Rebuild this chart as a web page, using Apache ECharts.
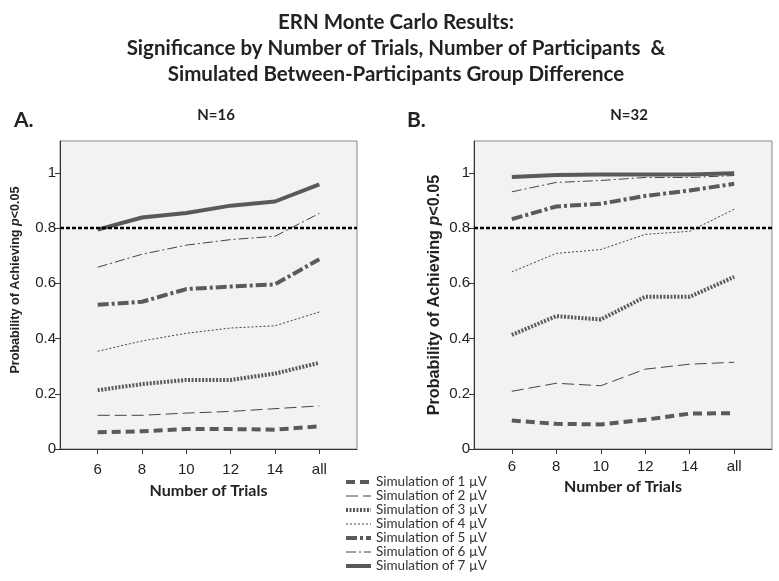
<!DOCTYPE html>
<html>
<head>
<meta charset="utf-8">
<script src="https://cdn.jsdelivr.net/npm/echarts@6/dist/echarts.min.js"></script>
<style>html,body{margin:0;padding:0;background:#fff}#c{width:779px;height:581px}</style>
</head>
<body>
<div id="c"></div>
<script>
// ---- data ----
const trials = ['6', '8', '10', '12', '14', 'all'];
const yTicks = [0, 0.2, 0.4, 0.6, 0.8, 1];
const simNames = ['Simulation of 1 \u00b5V', 'Simulation of 2 \u00b5V', 'Simulation of 3 \u00b5V', 'Simulation of 4 \u00b5V', 'Simulation of 5 \u00b5V', 'Simulation of 6 \u00b5V', 'Simulation of 7 \u00b5V'];
const threshold = 0.8;

// N=16 (panel A)
const n16_sim1 = [0.061, 0.064, 0.072, 0.072, 0.070, 0.082];
const n16_sim2 = [0.122, 0.122, 0.130, 0.136, 0.146, 0.156];
const n16_sim3 = [0.213, 0.235, 0.250, 0.250, 0.273, 0.312];
const n16_sim4 = [0.354, 0.391, 0.419, 0.438, 0.446, 0.496];
const n16_sim5 = [0.522, 0.533, 0.579, 0.588, 0.596, 0.687];
const n16_sim6 = [0.658, 0.705, 0.738, 0.758, 0.770, 0.853];
const n16_sim7 = [0.794, 0.838, 0.854, 0.881, 0.896, 0.958];

// N=32 (panel B)
const n32_sim1 = [0.103, 0.091, 0.089, 0.106, 0.128, 0.130];
const n32_sim2 = [0.209, 0.238, 0.229, 0.289, 0.307, 0.314];
const n32_sim3 = [0.413, 0.481, 0.469, 0.551, 0.551, 0.623];
const n32_sim4 = [0.641, 0.708, 0.722, 0.777, 0.788, 0.868];
const n32_sim5 = [0.832, 0.878, 0.888, 0.916, 0.936, 0.960];
const n32_sim6 = [0.931, 0.965, 0.972, 0.983, 0.983, 0.990];
const n32_sim7 = [0.985, 0.992, 0.994, 0.994, 0.994, 0.998];

const panelA = [n16_sim1, n16_sim2, n16_sim3, n16_sim4, n16_sim5, n16_sim6, n16_sim7];
const panelB = [n32_sim1, n32_sim2, n32_sim3, n32_sim4, n32_sim5, n32_sim6, n32_sim7];

// ---- styles ----
const styles = [
  {width: 4, type: [9, 5], color: '#5a5a5a'},
  {width: 1, type: [12, 5], color: '#444'},
  {width: 4, type: [2, 1.5], color: '#5a5a5a'},
  {width: 1, type: [2, 2], color: '#444'},
  {width: 4, type: [11, 3, 3, 3], color: '#5a5a5a'},
  {width: 1, type: [10, 3, 2, 3], color: '#444'},
  {width: 4, type: 'solid', color: '#595959'}
];

const calibri = 'Lato, "Open Sans", sans-serif';
const arial = '"Liberation Sans", Arial, sans-serif';

function xAxisCfg(idx, labelMargin, nameGap) {
  return {
    type: 'value', gridIndex: idx, min: -0.85, max: 5.85,
    splitLine: {show: false},
    axisLine: {show: true, onZero: false, lineStyle: {color: '#333', width: 1}},
    axisTick: {show: true, length: 5, customValues: [0, 1, 2, 3, 4, 5], lineStyle: {color: '#333'}},
    axisLabel: {customValues: [0, 1, 2, 3, 4, 5], formatter: v => trials[Math.round(v)], fontFamily: arial, fontSize: 15, color: '#222', margin: labelMargin},
    name: 'Number of Trials', nameLocation: 'middle', nameGap: nameGap,
    nameTextStyle: {fontFamily: calibri, fontWeight: 'bold', fontSize: 16, color: '#222'}
  };
}
function yAxisCfg(idx, showName, nameSize, nameGap) {
  const cfg = {
    type: 'value', gridIndex: idx, min: 0, max: 1.115,
    splitLine: {show: false},
    axisLine: {show: true, onZero: false, lineStyle: {color: '#333', width: 1}},
    axisTick: {show: true, length: 5, customValues: yTicks, lineStyle: {color: '#333'}},
    axisLabel: {customValues: yTicks, fontFamily: arial, fontSize: 15, color: '#222', margin: 4}
  };
  if (showName) {
    cfg.name = '{n|Probability of Achieving }{i|p}{n|<0.05}';
    cfg.nameLocation = 'middle';
    cfg.nameGap = nameGap;
    cfg.nameTextStyle = {
      rich: {
        n: {fontFamily: arial, fontWeight: 'bold', fontSize: nameSize, color: '#222'},
        i: {fontFamily: arial, fontWeight: 'bold', fontStyle: 'italic', fontSize: nameSize, color: '#222'}
      }
    };
  }
  return cfg;
}

const series = [];
[panelA, panelB].forEach((panel, p) => {
  panel.forEach((vals, k) => {
    const s = {
      type: 'line', name: simNames[k], xAxisIndex: p, yAxisIndex: p,
      data: vals.map((v, i) => [i, v]),
      symbol: 'none', silent: true, z: 3 + k,
      itemStyle: {color: styles[k].color},
      lineStyle: {color: styles[k].color, width: styles[k].width, type: styles[k].type, cap: 'butt'}
    };
    if (k === 0) {
      s.markLine = {
        silent: true, symbol: 'none', label: {show: false},
        lineStyle: {color: '#000', type: [4, 2], width: 2.4},
        data: [{yAxis: threshold}], z: 10
      };
    }
    series.push(s);
  });
});

const legendData = simNames.map((n, k) => ({
  name: n,
  lineStyle: {color: styles[k].color, width: styles[k].width, type: styles[k].type, cap: 'butt'}
}));

const chart = echarts.init(document.getElementById('c'), null, {renderer: 'canvas'});
chart.setOption({
  animation: false,
  backgroundColor: '#fff',
  title: [
    {text: 'ERN Monte Carlo Results:\nSignificance by Number of Trials, Number of Participants  &\nSimulated Between-Participants Group Difference',
     left: 391, top: 4, textAlign: 'center',
     textStyle: {fontFamily: calibri, fontWeight: 'bold', fontSize: 20.5, lineHeight: 26, color: '#222'}},
    {text: 'A.', left: 9, top: 105, textStyle: {fontFamily: calibri, fontWeight: 'bold', fontSize: 21, color: '#222'}},
    {text: 'N=16', left: 211, top: 103, textAlign: 'center', textStyle: {fontFamily: calibri, fontWeight: 'bold', fontSize: 15, color: '#222'}},
    {text: 'B.', left: 402, top: 105, textStyle: {fontFamily: calibri, fontWeight: 'bold', fontSize: 21, color: '#222'}},
    {text: 'N=32', left: 624, top: 103, textAlign: 'center', textStyle: {fontFamily: calibri, fontWeight: 'bold', fontSize: 15, color: '#222'}}
  ],
  graphic: [
    {type: 'text', x: 16, y: 280, rotation: Math.PI / 2, silent: true,
     style: {text: '{n|Probability of Achieving }{i|p}{n|<0.05}', align: 'center', verticalAlign: 'middle',
       rich: {
         n: {fontFamily: arial, fontWeight: 'bold', fontSize: 12.6, fill: '#222'},
         i: {fontFamily: arial, fontWeight: 'bold', fontStyle: 'italic', fontSize: 12.6, fill: '#222'}
       }}}
  ],
  legend: {
    orient: 'vertical', left: 344, top: 475, padding: 0, itemWidth: 25, itemHeight: 10, itemGap: 0,
    selectedMode: false, data: legendData,
    itemStyle: {opacity: 0, color: 'rgba(0,0,0,0)', borderWidth: 0},
    textStyle: {fontFamily: calibri, fontSize: 13.5, color: '#333', lineHeight: 12}
  },
  grid: [
    {left: 60, top: 141, width: 297, height: 308, show: true, backgroundColor: '#f2f2f4', borderColor: '#8a8a8a', borderWidth: 1},
    {left: 474, top: 141, width: 298, height: 308, show: true, backgroundColor: '#f2f2f4', borderColor: '#8a8a8a', borderWidth: 1}
  ],
  xAxis: [xAxisCfg(0, 13, 34), xAxisCfg(1, 10, 27)],
  yAxis: [yAxisCfg(0, false), yAxisCfg(1, true, 16.2, 31)],
  series: series
});
</script>
</body>
</html>
